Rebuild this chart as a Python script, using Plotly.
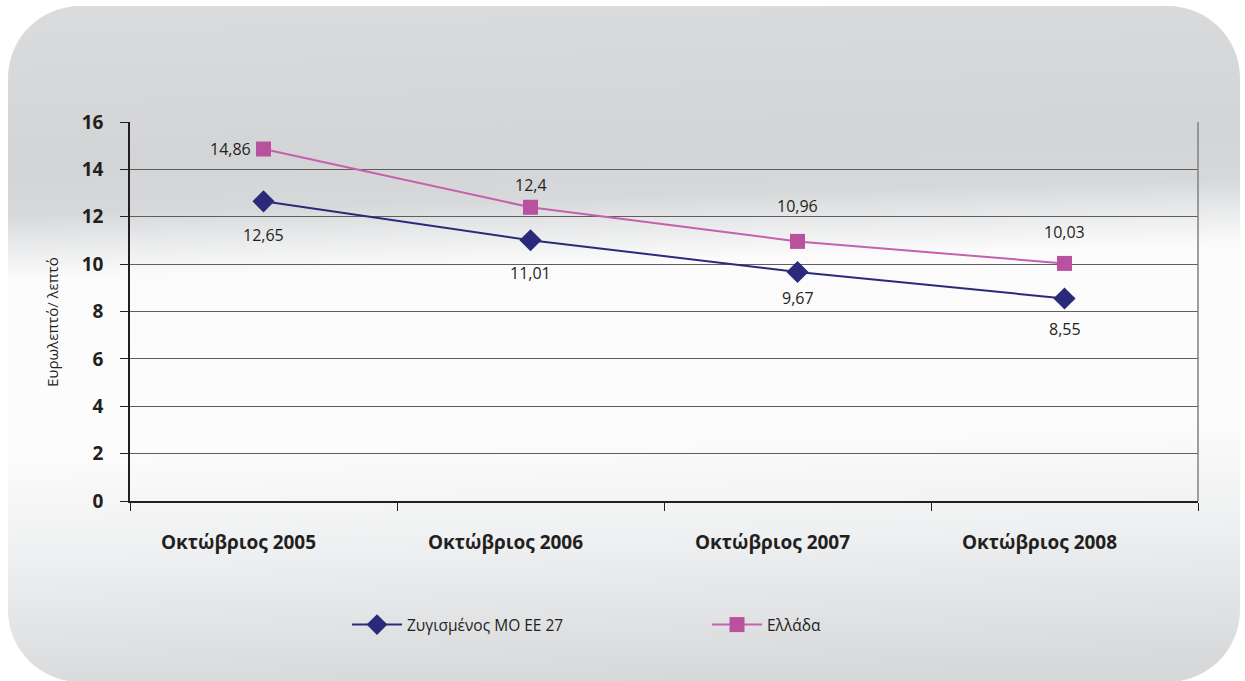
import base64
import plotly.graph_objects as go

# ---- data ----
categories = ["Οκτώβριος 2005", "Οκτώβριος 2006", "Οκτώβριος 2007", "Οκτώβριος 2008"]
eu27_values = [12.65, 11.01, 9.67, 8.55]
greece_values = [14.86, 12.4, 10.96, 10.03]
series_names = ["Ζυγισμένος ΜΟ ΕΕ 27", "Ελλάδα"]
y_ticks = [0, 2, 4, 6, 8, 10, 12, 14, 16]
y_title = "Ευρωλεπτό/ λεπτό"

# ---- styles ----
W, H = 1245, 681
FONT = "Open Sans"
TXT = "#231f20"
BLUE = "#2b2a7a"
PINK = "#b9529e"
PINK_LINE = "#c560ad"

# label offsets (px) per point: (xshift, yshift)
eu_label_off = [(0, -34), (0, -33), (0, -26), (0, -31)]
gr_label_off = [(-11, 0), (0, 22), (0, 35), (0, 31)]

px_x = lambda v: v / W
px_y = lambda v: 1 - v / H

# background rounded rectangle with gradient (SVG image)
svg = f'''<svg xmlns="http://www.w3.org/2000/svg" width="{W}" height="{H}" viewBox="0 0 {W} {H}" preserveAspectRatio="none">
<defs><linearGradient id="g" gradientUnits="userSpaceOnUse" x1="592" y1="0" x2="612" y2="681">
<stop offset="0" stop-color="#dadbdd"/>
<stop offset="0.22" stop-color="#d3d4d6"/>
<stop offset="0.29" stop-color="#d7d8da"/>
<stop offset="0.33" stop-color="#e7e8e9"/>
<stop offset="0.385" stop-color="#fbfbfb"/>
<stop offset="0.64" stop-color="#fcfcfc"/>
<stop offset="0.80" stop-color="#eeeff0"/>
<stop offset="1" stop-color="#d7d8da"/>
</linearGradient></defs>
<rect x="8" y="6" width="1232" height="676" rx="72" ry="72" fill="url(#g)"/>
</svg>'''
src = "data:image/svg+xml;base64," + base64.b64encode(svg.encode("utf-8")).decode()

fig = go.Figure()
fig.add_trace(go.Scatter(
    x=categories, y=eu27_values, name=series_names[0], mode="lines+markers",
    line=dict(color=BLUE, width=2),
    marker=dict(symbol="diamond", size=17, color=BLUE),
))
fig.add_trace(go.Scatter(
    x=categories, y=greece_values, name=series_names[1], mode="lines+markers",
    line=dict(color=PINK_LINE, width=2),
    marker=dict(symbol="square", size=15, color=PINK),
))

def fmt(v):
    return ("%g" % v).replace(".", ",")

annotations = []
for c, v, (dx, dy) in zip(categories, eu27_values, eu_label_off):
    annotations.append(dict(x=c, y=v, xref="x", yref="y", text=fmt(v), showarrow=False,
                            xshift=dx, yshift=dy, font=dict(family=FONT, size=16, color=TXT)))
for i, (c, v, (dx, dy)) in enumerate(zip(categories, greece_values, gr_label_off)):
    annotations.append(dict(x=c, y=v, xref="x", yref="y", text=fmt(v), showarrow=False,
                            xshift=dx, yshift=dy, xanchor="right" if dx < 0 else "center",
                            font=dict(family=FONT, size=16, color=TXT)))
annotations.append(dict(x=px_x(52), y=px_y(322), xref="paper", yref="paper", text=y_title,
                        textangle=-90, showarrow=False, xanchor="center", yanchor="middle",
                        font=dict(family=FONT, size=15, color=TXT)))

fig.update_layout(
    width=W, height=H,
    margin=dict(l=0, r=0, t=0, b=0, pad=0, autoexpand=False),
    paper_bgcolor="white", plot_bgcolor="rgba(0,0,0,0)",
    font=dict(family=FONT, color=TXT),
    images=[dict(source=src, xref="paper", yref="paper", x=0, y=1, sizex=1, sizey=1,
                 xanchor="left", yanchor="top", sizing="stretch", layer="below")],
    xaxis=dict(domain=[px_x(130), px_x(1198)], type="category", range=[-0.5, 3.5],
               automargin=False,
               showgrid=False, showline=True, linecolor="#231f20", linewidth=2,
               ticks="outside", tickson="boundaries", ticklen=8, tickcolor="#231f20",
               tickfont=dict(family=FONT, size=19, color=TXT, weight="bold"),
               ticklabelstandoff=23, ticklabelshift=-25, zeroline=False),
    yaxis=dict(domain=[px_y(501), px_y(122)], range=[0, 16], tickvals=y_ticks,
               automargin=False,
               showgrid=True, gridcolor="#5e5e5e", gridwidth=1.3,
               showline=True, linecolor="#231f20", linewidth=1.5,
               ticks="outside", ticklen=8, tickcolor="#231f20",
               tickfont=dict(family=FONT, size=19, color=TXT, weight="bold"),
               ticklabelstandoff=13, zeroline=False),
    shapes=[dict(type="line", xref="paper", yref="y", x0=px_x(1198), x1=px_x(1198),
                 y0=0, y1=16, line=dict(color="#808080", width=1.5))],
    legend=dict(orientation="h", x=px_x(347), y=px_y(625), xanchor="left", yanchor="middle",
                bgcolor="rgba(0,0,0,0)", entrywidth=295, entrywidthmode="pixels",
                itemwidth=50,
                font=dict(family=FONT, size=15.5, color=TXT)),
    annotations=annotations,
)

fig.write_html("out.html", config={"displayModeBar": False},
               post_script="document.body.style.margin='0';")
